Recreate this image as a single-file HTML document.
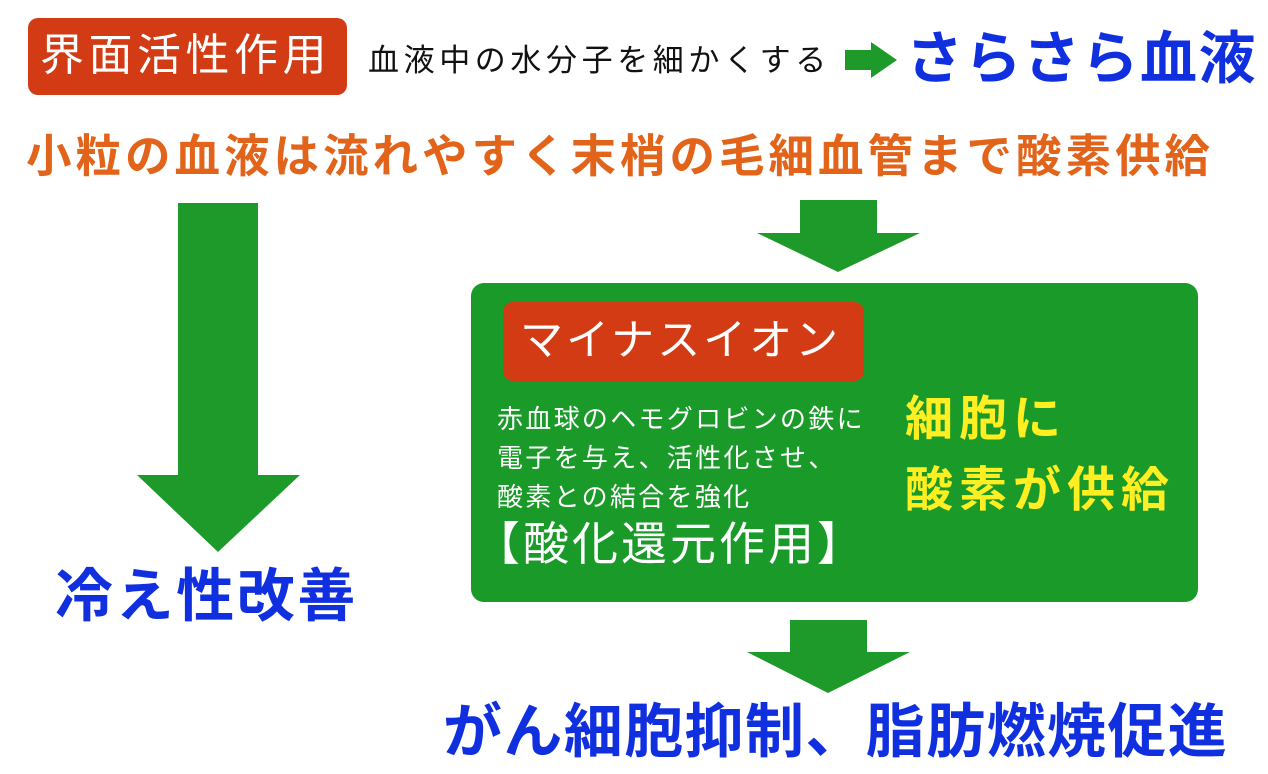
<!DOCTYPE html>
<html><head><meta charset="utf-8"><style>
body{margin:0;width:1268px;height:774px;background:#fff;position:relative;overflow:hidden;font-family:"Liberation Sans","Noto Sans CJK JP",sans-serif;}
.a{position:absolute;white-space:nowrap;line-height:1;}
.b{font-weight:bold;}
</style></head><body>
<div class="a" style="left:28px;top:18px;width:319px;height:77px;background:#d23b14;border-radius:10px;"></div>
<div class="a" style="left:40px;top:34px;font-size:44px;color:#fff;letter-spacing:4.5px;">界面活性作用</div>
<div class="a" style="left:368px;top:45px;font-size:31px;color:#111;letter-spacing:4.6px;">血液中の水分子を細かくする</div>
<svg class="a" style="left:843px;top:40px" width="56" height="40"><polygon points="2,10 28,10 28,2 54,20 28,38 28,30 2,30" fill="#1e9a2a"/></svg>
<div class="a b" style="left:906px;top:31px;font-size:57px;color:#1030e0;letter-spacing:1.5px;">さらさら血液</div>
<div class="a b" style="left:26px;top:134px;font-size:45.5px;color:#e2641a;letter-spacing:4px;">小粒の血液は流れやすく末梢の毛細血管まで酸素供給</div>
<svg class="a" style="left:0;top:0" width="1268" height="774">
<polygon points="178,203 258,203 258,475 300,475 218,552 137,475 178,475" fill="#1e9a2a"/>
<polygon points="800,200 877,200 877,233 920,233 838,272 757,233 800,233" fill="#1e9a2a"/>
<polygon points="790,620 867,620 867,652 910,652 828,693 747,652 790,652" fill="#1e9a2a"/>
<rect x="471" y="283" width="727" height="319" rx="13" fill="#1a9a28"/>
<rect x="503" y="302" width="361" height="79" rx="10" fill="#d23b14"/>
</svg>
<div class="a b" style="left:55px;top:568px;font-size:58px;color:#1030e0;letter-spacing:2.6px;">冷え性改善</div>
<div class="a" style="left:520px;top:320px;font-size:43px;color:#fff;letter-spacing:3px;">マイナスイオン</div>
<div class="a" style="left:497px;top:400px;font-size:26px;color:#fff;line-height:39px;letter-spacing:2.3px;">赤血球のヘモグロビンの鉄に<br>電子を与え、活性化させ、<br>酸素との結合を強化</div>
<div class="a" style="left:474px;top:521px;font-size:46px;color:#fff;letter-spacing:3px;">【酸化還元作用】</div>
<div class="a b" style="left:905px;top:384px;font-size:48px;color:#ffee22;line-height:71px;letter-spacing:6px;">細胞に<br>酸素が供給</div>
<div class="a b" style="left:443px;top:703px;font-size:59px;color:#1030e0;letter-spacing:1.4px;">がん細胞抑制、脂肪燃焼促進</div>
</body></html>
